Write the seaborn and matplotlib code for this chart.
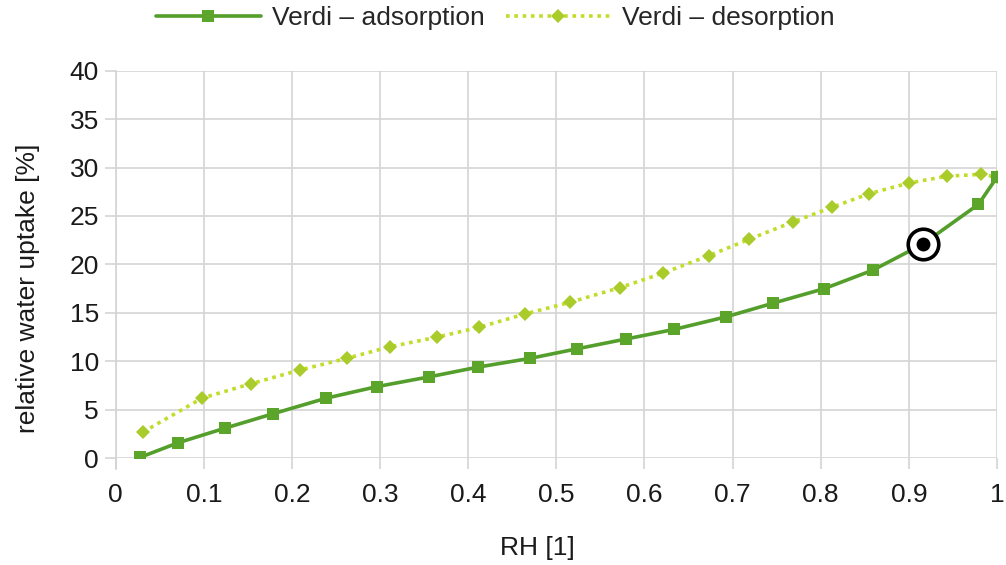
import matplotlib
matplotlib.use("Agg")
import matplotlib.pyplot as plt
import seaborn as sns
import pandas as pd

# Sorption isotherm of Verdi: relative humidity vs. relative water uptake
rh_ads = [0.028, 0.071, 0.124, 0.179, 0.239, 0.297, 0.356, 0.411, 0.470, 0.524,
          0.579, 0.634, 0.693, 0.746, 0.804, 0.859, 0.916, 0.979, 1.000]
uptake_ads = [0.1, 1.6, 3.1, 4.6, 6.2, 7.4, 8.4, 9.4, 10.3, 11.3,
              12.3, 13.3, 14.6, 16.0, 17.5, 19.4, 22.1, 26.2, 29.0]

rh_des = [0.031, 0.098, 0.154, 0.209, 0.262, 0.311, 0.365, 0.412, 0.465, 0.516,
          0.572, 0.621, 0.673, 0.719, 0.769, 0.813, 0.855, 0.900, 0.943, 0.982, 1.000]
uptake_des = [2.7, 6.2, 7.7, 9.1, 10.3, 11.5, 12.5, 13.5, 14.9, 16.1,
              17.6, 19.1, 20.9, 22.6, 24.4, 25.9, 27.3, 28.4, 29.1, 29.3, 29.0]

label_ads = "Verdi – adsorption"
label_des = "Verdi – desorption"
highlight_index = 16  # adsorption point marked with a ring

x_ticks = [0, 0.1, 0.2, 0.3, 0.4, 0.5, 0.6, 0.7, 0.8, 0.9, 1.0]
x_tick_labels = ["0", "0.1", "0.2", "0.3", "0.4", "0.5", "0.6", "0.7", "0.8", "0.9", "1"]
y_ticks = [0, 5, 10, 15, 20, 25, 30, 35, 40]

sns.set_theme(style="white")
plt.rcParams["font.family"] = ["Liberation Sans", "DejaVu Sans"]

ads = pd.DataFrame({"RH": rh_ads, "uptake": uptake_ads})
des = pd.DataFrame({"RH": rh_des, "uptake": uptake_des})

fig = plt.figure(figsize=(10.06, 5.65), dpi=100)
ax = fig.add_axes([0.115, 0.189, 0.876, 0.686])

grid_col = "#d4d4d4"
ads_col = "#549e2c"
des_line = "#c2dc2a"
des_mark = "#a9cc2a"
text_col = "#1a1a1a"
fs = 19

sns.lineplot(data=ads, x="RH", y="uptake", ax=ax, color=ads_col, linewidth=2.6,
             marker="s", markersize=8, markeredgewidth=0, markerfacecolor="#5ba52a",
             label=label_ads, sort=False, zorder=3)
sns.lineplot(data=des, x="RH", y="uptake", ax=ax, color=des_line, linewidth=2.6,
             linestyle=(0, (1, 1.3)), marker="D", markersize=7, markeredgewidth=0,
             markerfacecolor=des_mark, label=label_des, sort=False, zorder=2)

# ring highlight on one adsorption point
hx, hy = rh_ads[highlight_index], uptake_ads[highlight_index]
ax.plot([hx], [hy], marker="o", markersize=22, markerfacecolor="white",
        markeredgecolor="black", markeredgewidth=2.6, zorder=5)
ax.plot([hx], [hy], marker="o", markersize=10, markerfacecolor="black",
        markeredgewidth=0, zorder=6)

ax.set_xlim(0, 1)
ax.set_ylim(0, 40)
ax.set_xticks(x_ticks)
ax.set_xticklabels(x_tick_labels)
ax.set_yticks(y_ticks)
ax.grid(True, color=grid_col, linewidth=1.2)
ax.set_axisbelow(True)
for side in ["top", "right", "bottom"]:
    ax.spines[side].set_visible(False)
ax.spines["left"].set_color(grid_col)
ax.spines["left"].set_linewidth(1.2)
ax.spines["left"].set_bounds(-1.1, 40)
ax.tick_params(axis="both", which="both", length=8, width=1.2, color=grid_col,
               labelsize=fs, labelcolor=text_col, direction="out",
               bottom=True, left=True)
ax.tick_params(axis="x", pad=10)
ax.tick_params(axis="y", pad=4)

ax.set_xlabel("RH [1]", fontsize=fs, color=text_col)
ax.set_ylabel("relative water uptake [%]", fontsize=fs, color=text_col)
ax.xaxis.set_label_coords(0.478, -0.232)
ax.xaxis.label.set_va("center")
ax.yaxis.set_label_coords(-0.0998, 0.439)
ax.yaxis.label.set_va("center")
ax.yaxis.label.set_ha("center")

ax.legend().remove()
handles, labels = ax.get_legend_handles_labels()
fig.legend(handles[:2], labels[:2], loc="center", bbox_to_anchor=(0.492, 0.968),
           ncol=2, frameon=False, fontsize=fs, handlelength=4.0,
           columnspacing=0.8, handletextpad=0.4, borderaxespad=0)

fig.savefig("out.png", dpi=100, facecolor="white")
